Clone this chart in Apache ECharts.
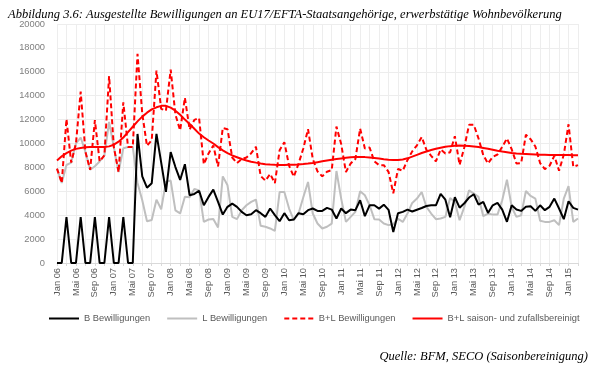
<!DOCTYPE html>
<html><head><meta charset="utf-8">
<script src="https://cdn.jsdelivr.net/npm/echarts@6/dist/echarts.min.js"></script>
<style>html,body{margin:0;padding:0;background:#fff}#c{width:605px;height:366px}</style>
</head><body><div id="c"></div>
<script>
const monthNames = ['Jan','Feb','Mär','Apr','Mai','Jun','Jul','Aug','Sep','Okt','Nov','Dez'];
const years = ['06','07','08','09','10','11','12','13','14','15'];
const monthCount = 111;
const categories = [];
for (let k = 0; k < monthCount; k++) {
  categories.push(monthNames[k % 12] + ' ' + years[Math.floor(k / 12)]);
}

const bValues = [
  0,0,3850,0,0,3850,0,0,3850,0,0,3850,
  0,0,3850,0,0,10800,7250,6300,6680,10800,8400,5950,
  9280,8030,6950,8270,5670,5780,6050,4830,5530,6140,5110,4050,
  4700,4970,4700,4280,4000,4080,4420,4170,3860,4560,4000,3500,
  4170,3580,3640,4170,4080,4420,4560,4360,4360,4610,4470,3720,
  4560,4170,4470,4420,5250,3920,4830,4830,4550,4880,4450,2590,
  4170,4280,4470,4310,4460,4600,4770,4830,4830,5780,5300,3830,
  5500,4630,5000,5480,5750,4890,5110,4190,4830,5030,4470,3450,
  4830,4470,4360,4700,4750,4360,4830,4420,4700,5390,4560,3670,
  5170,4610,4470
];
const lValues = [
  7900,6700,8200,8400,10000,10500,9300,7800,8100,8500,9000,11800,
  9700,7600,9600,9700,9700,6700,5250,3500,3600,5300,4500,6800,
  6900,4400,4150,5550,5500,6200,6080,3440,3640,3690,2970,7250,
  6500,3860,3670,4420,4830,5110,5310,3110,3030,2890,2690,5940,
  5940,4560,3580,4140,5500,6780,4140,3310,2890,3030,3300,7700,
  5390,3440,3860,4280,6000,5670,4830,3670,3640,3310,3170,3250,
  3700,3440,4140,5030,5390,5940,4690,4140,3670,3720,3860,5440,
  5110,3580,4690,6080,5810,5530,3920,4140,4050,4050,5250,6970,
  4690,3860,4000,6030,5610,5390,3530,3440,3440,3580,3170,5390,
  6440,3440,3720
];
const blValues = [
  7900,6700,12050,8400,10000,14350,9300,7800,11950,8500,9000,15650,
  9700,7600,13450,9700,9700,17500,12500,9800,10280,16100,12900,12750,
  16180,12430,11100,13820,11170,11980,12130,8270,9170,9830,8080,11300,
  11200,8830,8370,8700,8830,9190,9730,7280,6890,7450,6690,9440,
  10110,8140,7220,8310,9580,11200,8700,7670,7250,7640,7770,11420,
  9950,7610,8330,8700,11250,9590,9660,8500,8190,8190,7620,5840,
  7870,7720,8610,9340,9850,10540,9460,8970,8500,9500,9160,9270,
  10610,8210,9690,11560,11560,10420,9030,8330,8880,9080,9720,10420,
  9520,8330,8360,10730,10360,9750,8360,7860,8140,8970,7730,9060,
  11610,8050,8190
];
const trendValues = [
  8580,8930,9200,9400,9550,9620,9680,9700,9700,9700,9710,9760,
  9900,10150,10500,10950,11400,11850,12250,12580,12850,13030,13150,13150,
  13000,12750,12400,12000,11640,11230,10830,10520,10250,10000,9700,9430,
  9200,9000,8850,8700,8580,8480,8400,8330,8270,8240,8220,8210,
  8210,8220,8230,8250,8280,8320,8370,8440,8510,8580,8640,8700,
  8750,8800,8840,8860,8870,8860,8830,8790,8740,8690,8650,8620,
  8620,8660,8760,8900,9050,9200,9330,9450,9560,9650,9730,9780,
  9810,9830,9820,9800,9750,9700,9630,9560,9480,9400,9330,9270,
  9210,9170,9140,9120,9100,9080,9060,9050,9040,9030,9030,9030,
  9030,9020,9020
];
const seriesNames = ['B Bewilligungen','L Bewilligungen','B+L Bewilligungen','B+L saison- und zufallsbereinigt'];
const titleText = 'Abbildung 3.6: Ausgestellte Bewilligungen an EU17/EFTA-Staatsangehörige, erwerbstätige Wohnbevölkerung';
const sourceText = 'Quelle: BFM, SECO (Saisonbereinigung)';

const sansFont = "'Liberation Sans', Arial, sans-serif";
const serifFont = "'Liberation Serif', 'Times New Roman', serif";
const solidIcon = 'path://M0,0H30V2H0Z';
const dashIcon = 'path://M0,0H5V2H0Z M8,0H13V2H8Z M16,0H21V2H16Z M24,0H29V2H24Z';

const chart = echarts.init(document.getElementById('c'), null, {renderer: 'canvas'});
chart.setOption({
  animation: false,
  title: [
    {text: titleText, left: 3, top: 3,
     textStyle: {fontFamily: serifFont, fontStyle: 'italic', fontWeight: 'normal', fontSize: 12.5, color: '#000'}},
    {text: sourceText, right: 12, top: 345,
     textStyle: {fontFamily: serifFont, fontStyle: 'italic', fontWeight: 'normal', fontSize: 12.5, color: '#000'}}
  ],
  legend: {
    left: 44, top: 309, itemWidth: 30, itemHeight: 2, itemGap: 17,
    textStyle: {fontFamily: sansFont, fontSize: 9.3, color: '#595959'},
    data: [
      {name: seriesNames[0], icon: solidIcon},
      {name: seriesNames[1], icon: solidIcon},
      {name: seriesNames[2], icon: dashIcon},
      {name: seriesNames[3], icon: solidIcon}
    ]
  },
  grid: {left: 57, right: 27, top: 24, bottom: 103},
  xAxis: {
    type: 'category', data: categories, boundaryGap: false,
    axisLine: {lineStyle: {color: '#d9d9d9'}},
    axisTick: {show: true, interval: 1, length: 3, lineStyle: {color: '#d9d9d9'}},
    axisLabel: {interval: 3, rotate: 90, fontSize: 9.3, color: '#595959', margin: 5, fontFamily: sansFont},
    splitLine: {show: true, interval: 1, lineStyle: {color: '#ededed'}}
  },
  yAxis: {
    type: 'value', min: 0, max: 20000, interval: 2000,
    axisLabel: {fontSize: 9.3, color: '#7f7f7f', margin: 12, fontFamily: sansFont,
                formatter: function (v) { return String(v); }},
    splitLine: {lineStyle: {color: '#ededed'}},
    axisLine: {show: false}, axisTick: {show: false}
  },
  series: [
    {name: seriesNames[0], type: 'line', data: bValues, symbol: 'none', z: 3,
     lineStyle: {color: '#000', width: 2}, itemStyle: {color: '#000'}},
    {name: seriesNames[1], type: 'line', data: lValues, symbol: 'none', z: 2,
     lineStyle: {color: '#bfbfbf', width: 2}, itemStyle: {color: '#bfbfbf'}},
    {name: seriesNames[2], type: 'line', data: blValues, symbol: 'none', z: 4,
     lineStyle: {color: '#ff0000', width: 2, type: [5, 3]}, itemStyle: {color: '#ff0000'}},
    {name: seriesNames[3], type: 'line', data: trendValues, symbol: 'none', z: 5,
     lineStyle: {color: '#ff0000', width: 2}, itemStyle: {color: '#ff0000'}}
  ]
});
</script>
</body></html>
